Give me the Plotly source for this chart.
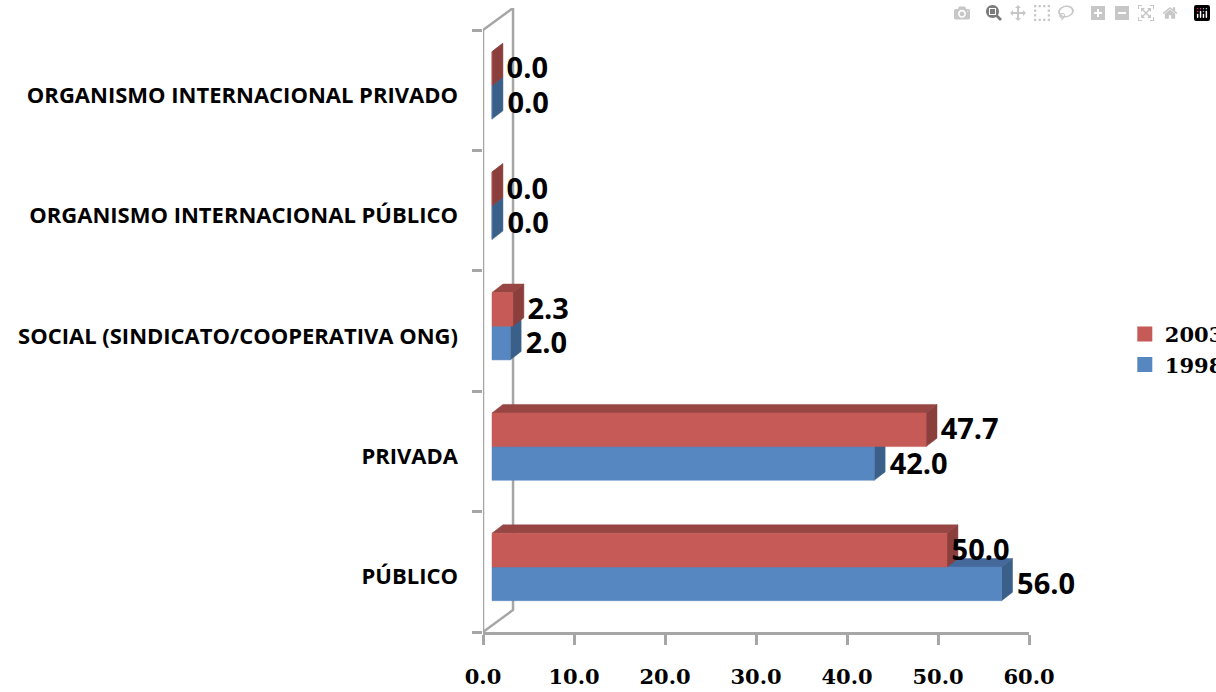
import plotly.graph_objects as go

categories = [
    "PÚBLICO",
    "PRIVADA",
    "SOCIAL (SINDICATO/COOPERATIVA ONG)",
    "ORGANISMO INTERNACIONAL PÚBLICO",
    "ORGANISMO INTERNACIONAL PRIVADO",
]
values_1998 = [56.0, 42.0, 2.0, 0.0, 0.0]
values_2003 = [50.0, 47.7, 2.3, 0.0, 0.0]
x_ticks = [0, 10, 20, 30, 40, 50, 60]

# fake 3d look, everything below is in axis units (1 unit = 9.1px / 1 slot = 120.4px)
FRONT_GAP = 0.99
WALL_DX = 3.3
WALL_DY = 0.183
BAR_DX = 1.2
BAR_DY = 0.07
BAR_H = 0.28
BAR_SHIFT = 0.04
GREY = "#A6A6A6"
SANS = "Open Sans"
SERIF = "DejaVu Serif"

n_slots = len(categories)
fig = go.Figure()


def add_face(xs, ys, color):
    fig.add_trace(
        go.Scatter(
            x=xs,
            y=ys,
            mode="lines",
            fill="toself",
            fillcolor=color,
            line=dict(color=color, width=0.5),
            hoverinfo="skip",
            showlegend=False,
        )
    )


def add_bar(value, y0, front, top, side):
    y1 = y0 + BAR_H
    add_face(
        [0, value, value + BAR_DX, BAR_DX, 0],
        [y1, y1, y1 + BAR_DY, y1 + BAR_DY, y1],
        top,
    )
    add_face(
        [value, value + BAR_DX, value + BAR_DX, value, value],
        [y0, y0 + BAR_DY, y1 + BAR_DY, y1, y0],
        side,
    )
    add_face([0, value, value, 0, 0], [y0, y0, y1, y1, y0], front)


# wall and floor lines
left = -FRONT_GAP
back = left + WALL_DX
fig.add_trace(
    go.Scatter(
        x=[left, left, back, back, left],
        y=[0, n_slots, n_slots + WALL_DY, WALL_DY, 0],
        mode="lines",
        line=dict(color=GREY, width=2.5),
        hoverinfo="skip",
        showlegend=False,
        cliponaxis=False,
    )
)

for i in range(n_slots):
    center = i + 0.5 + BAR_SHIFT
    add_bar(values_1998[i], center - BAR_H, "#5787C1", "#45699A", "#3A6089")
    add_bar(values_2003[i], center, "#C55A57", "#974643", "#8A3F3D")

# value labels
label_x, label_y, label_text = [], [], []
for i in range(n_slots):
    center = i + 0.5 + BAR_SHIFT
    label_x.append(values_1998[i] + 1.7)
    label_y.append(center - BAR_H / 2 - 0.025)
    label_text.append(f"{values_1998[i]:.1f}")
    # the 50.0 label sits against its bar in the original
    nudge = 0.5 if values_2003[i] == 50.0 else 1.6
    label_x.append(values_2003[i] + nudge)
    label_y.append(center + BAR_H / 2 - 0.02)
    label_text.append(f"{values_2003[i]:.1f}")

fig.add_trace(
    go.Scatter(
        x=label_x,
        y=label_y,
        text=label_text,
        mode="text",
        textposition="middle right",
        textfont=dict(family=SANS, size=29, color="black", weight="bold"),
        hoverinfo="skip",
        showlegend=False,
        cliponaxis=False,
    )
)

# legend swatches
for name, color in [("2003", "#C55A57"), ("1998", "#5787C1")]:
    fig.add_trace(
        go.Scatter(
            x=[None],
            y=[None],
            name=name,
            mode="markers",
            legendgroup=name,
            marker=dict(symbol="square", size=15, color=color),
        )
    )

fig.update_layout(
    width=1216,
    height=692,
    margin=dict(l=483, r=187, t=8, b=60, autoexpand=False),
    paper_bgcolor="white",
    plot_bgcolor="white",
    legend=dict(
        x=0.925,
        y=0.495,
        xref="container",
        yref="container",
        xanchor="left",
        yanchor="middle",
        tracegroupgap=40,
        font=dict(family=SERIF, size=21, color="black", weight="bold"),
        traceorder="normal",
    ),
    xaxis=dict(
        range=[-FRONT_GAP, 60 - FRONT_GAP],
        tickvals=[t - FRONT_GAP for t in x_ticks],
        ticktext=[f"{t:.1f}" for t in x_ticks],
        ticks="outside",
        ticklen=10,
        tickwidth=2.5,
        tickcolor=GREY,
        ticklabelstandoff=14,
        showline=True,
        linecolor=GREY,
        linewidth=2.5,
        showgrid=False,
        zeroline=False,
        tickfont=dict(family=SERIF, size=21, color="black", weight="bold"),
    ),
    yaxis=dict(
        range=[0, n_slots + WALL_DY],
        tickvals=[i + 0.5 - 0.04 for i in range(n_slots)],
        ticktext=categories,
        ticks="",
        ticklabelstandoff=24,
        showline=False,
        showgrid=False,
        zeroline=False,
        tickfont=dict(family=SANS, size=22, color="black", weight="bold"),
        minor=dict(
            tickmode="array",
            tickvals=list(range(n_slots + 1)),
            ticks="outside",
            ticklen=10,
            tickwidth=2.5,
            tickcolor=GREY,
            showgrid=False,
        ),
    ),
)

# page margin would shift the whole figure by 8px
fig.write_html("out.html", post_script="document.body.style.margin = '0';")
